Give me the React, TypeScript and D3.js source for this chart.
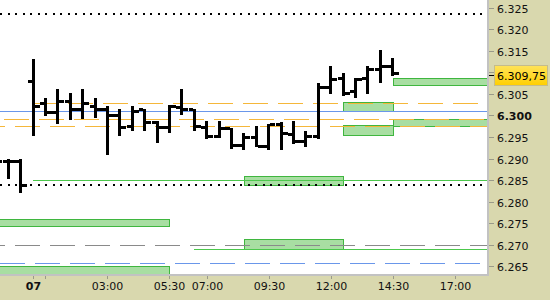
import React from "react";
import * as d3 from "d3";

// ---------- DATA ----------
const viewStart = "2024-05-06T22:40";
const viewEnd = "2024-05-07T18:18";
const priceDomain = [6.26314, 6.32686];

const barTimes = [
  "2024-05-06T22:30", "2024-05-06T23:00", "2024-05-06T23:30",
  "2024-05-07T00:00", "2024-05-07T00:30", "2024-05-07T01:00", "2024-05-07T01:30",
  "2024-05-07T02:00", "2024-05-07T02:30", "2024-05-07T03:00", "2024-05-07T03:30",
  "2024-05-07T04:00", "2024-05-07T04:30", "2024-05-07T05:00", "2024-05-07T05:30",
  "2024-05-07T06:00", "2024-05-07T06:30", "2024-05-07T07:00", "2024-05-07T07:30",
  "2024-05-07T08:00", "2024-05-07T08:30", "2024-05-07T09:00", "2024-05-07T09:30",
  "2024-05-07T10:00", "2024-05-07T10:30", "2024-05-07T11:00", "2024-05-07T11:30",
  "2024-05-07T12:00", "2024-05-07T12:30", "2024-05-07T13:00", "2024-05-07T13:30",
  "2024-05-07T14:00", "2024-05-07T14:30",
];
const opens = [
  6.2894, 6.2894, 6.2894,
  6.3078, 6.3027, 6.3006, 6.3033,
  6.3013, 6.3021, 6.3015, 6.3001,
  6.2974, 6.3013, 6.2984, 6.2971,
  6.3019, 6.3013, 6.2973, 6.2952,
  6.2969, 6.2931, 6.2950, 6.2929,
  6.2978, 6.2955, 6.2940, 6.2952,
  6.3066, 6.3085, 6.3055, 6.3085,
  6.3108, 6.3113,
];
const highs = [
  6.2899, 6.2899, 6.2899,
  6.3131, 6.3041, 6.3062, 6.3052,
  6.3062, 6.3041, 6.3022, 6.3015,
  6.3022, 6.3015, 6.2987, 6.3024,
  6.3062, 6.3015, 6.2987, 6.2987,
  6.2971, 6.2959, 6.2976, 6.2980,
  6.2984, 6.2987, 6.2964, 6.3076,
  6.3115, 6.3099, 6.3087, 6.3115,
  6.3152, 6.3134,
];
const lows = [
  6.2873, 6.2852, 6.2820,
  6.2952, 6.2999, 6.2980, 6.2990,
  6.2992, 6.2994, 6.2908, 6.2952,
  6.2964, 6.2964, 6.2936, 6.2959,
  6.3001, 6.2964, 6.2945, 6.2948,
  6.2922, 6.2920, 6.2927, 6.2920,
  6.2920, 6.2934, 6.2927, 6.2945,
  6.3050, 6.3045, 6.3041, 6.3050,
  6.3076, 6.3092,
];
const closes = [
  6.2894, 6.2894, 6.2838,
  6.3021, 6.3006, 6.3033, 6.3013,
  6.3027, 6.3015, 6.3001, 6.2971,
  6.3010, 6.2984, 6.2971, 6.3021,
  6.3013, 6.2974, 6.2952, 6.2969,
  6.2931, 6.2948, 6.2929, 6.2978,
  6.2957, 6.2940, 6.2952, 6.3065,
  6.3083, 6.3050, 6.3083, 6.3108,
  6.3113, 6.30975,
];

const lastPrice = 6.30975;

// horizontal levels
const levelPrices = [6.3236, 6.2838, 6.3010, 6.3029, 6.2992, 6.2976, 6.2850, 6.2699, 6.2690, 6.2657];
const levelStarts = [
  "2024-05-06T20:00", "2024-05-06T20:00", "2024-05-06T20:00", "2024-05-07T00:00",
  "2024-05-06T20:00", "2024-05-06T20:00", "2024-05-07T00:00", "2024-05-06T20:00",
  "2024-05-07T06:30", "2024-05-06T20:00",
];
const levelEnds = [
  "2024-05-07T18:05", "2024-05-07T18:05", "2024-05-07T20:00", "2024-05-07T20:00",
  "2024-05-07T20:00", "2024-05-07T20:00", "2024-05-07T20:00", "2024-05-07T20:00",
  "2024-05-07T20:00", "2024-05-07T18:00",
];
const levelKinds = ["dotted", "dotted", "blue", "orange", "orange", "orange", "green", "gray", "green", "blueDash"];

// zones (boxes)
const zoneStarts = [
  "2024-05-06T20:00", "2024-05-06T20:00", "2024-05-07T08:30", "2024-05-07T08:30",
  "2024-05-07T12:30", "2024-05-07T12:30", "2024-05-07T14:30", "2024-05-07T14:30",
];
const zoneEnds = [
  "2024-05-07T05:30", "2024-05-07T05:30", "2024-05-07T12:30", "2024-05-07T12:30",
  "2024-05-07T14:30", "2024-05-07T14:30", "2024-05-07T20:00", "2024-05-07T20:00",
];
const zoneTops = [6.2759, 6.2650, 6.2859, 6.2713, 6.3031, 6.2977, 6.3087, 6.2993];
const zoneBottoms = [6.2743, 6.2600, 6.2838, 6.2690, 6.3011, 6.2955, 6.3070, 6.2975];

const yTickValues = [6.325, 6.32, 6.315, 6.31, 6.305, 6.3, 6.295, 6.29, 6.285, 6.28, 6.275, 6.27, 6.265];
const xTickTimes = [
  "2024-05-07T00:00", "2024-05-07T00:30", "2024-05-07T03:00", "2024-05-07T05:30",
  "2024-05-07T07:00", "2024-05-07T09:30", "2024-05-07T12:00", "2024-05-07T14:30", "2024-05-07T17:00",
];
const xTickLabels = ["07", "", "03:00", "05:30", "07:00", "09:30", "12:00", "14:30", "17:00"];

// ---------- STYLES ----------
const W = 550;
const H = 300;
const PR = 487;
const PB = 274;
const PANEL = "#d9d8ae";
const BORDER = "#c2c2c2";
const TEXT = "#111";
const levelStyle: Record<string, any> = {
  dotted: { stroke: "#000", width: 2, dash: "2 5.5" },
  blue: { stroke: "#6a97ea", width: 1, dash: null },
  orange: { stroke: "#f5b73a", width: 1, dash: "25 10" },
  green: { stroke: "#4cc84c", width: 1, dash: null },
  gray: { stroke: "#8a8a8a", width: 1, dash: "25 10" },
  blueDash: { stroke: "#6a97ea", width: 1, dash: "25 10" },
};
// pixel phase of dash pattern per level (style)
const levelPhase = [0, 0, 0, 0, 4, 15, 0, 15, 0, 0];

const parse = d3.utcParse("%Y-%m-%dT%H:%M");

export default function App() {
  const x = d3.scaleUtc().domain([parse(viewStart)!, parse(viewEnd)!]).range([0, PR]);
  const y = d3.scaleLinear().domain(priceDomain).range([PB, 0]);
  const crisp = (v: number) => Math.round(v) + 0.5;
  const fmt = d3.format(".3f");
  const lastStr = d3.format(".5f")(lastPrice);
  const lastLabel = lastStr.slice(0, 5) + "," + lastStr.slice(5);
  const lastY = y(lastPrice);

  const bw = 3;
  return (
    <svg
      width={W}
      height={H}
      style={{ position: "fixed", left: 0, top: 0 }}
      fontFamily="DejaVu Sans, Verdana, sans-serif"
      fontSize={11}
    >
      <defs>
        <clipPath id="plotClip">
          <rect x={0} y={0} width={PR} height={PB} />
        </clipPath>
        <linearGradient id="lastGrad" x1="0" x2="0" y1="0" y2="1">
          <stop offset="0" stopColor="#ffe35a" />
          <stop offset="1" stopColor="#ffcf00" />
        </linearGradient>
      </defs>
      <rect x={0} y={0} width={W} height={H} fill="#fff" />
      <g clipPath="url(#plotClip)">
        {zoneStarts.map((s, i) => {
          const x0 = x(parse(s)!);
          const x1 = x(parse(zoneEnds[i])!);
          const y0 = y(zoneTops[i]);
          const y1 = y(zoneBottoms[i]);
          return (
            <rect
              key={"z" + i}
              x={Math.round(x0) + 0.5}
              y={Math.round(y0) + 0.5}
              width={Math.round(x1) - Math.round(x0)}
              height={Math.round(y1) - Math.round(y0)}
              fill="#a8dea2"
              stroke="#3fb63f"
              strokeWidth={1}
            />
          );
        })}
        {levelPrices.map((p, i) => {
          const st = levelStyle[levelKinds[i]];
          const x0 = Math.max(0, x(parse(levelStarts[i])!));
          const x1 = Math.min(PR, x(parse(levelEnds[i])!));
          const yy = st.width === 1 ? crisp(y(p)) : Math.round(y(p));
          const off = (35 - levelPhase[i]) % 35;
          return (
            <line
              key={"l" + i}
              x1={x0}
              x2={x1}
              y1={yy}
              y2={yy}
              stroke={st.stroke}
              strokeWidth={st.width}
              strokeDasharray={st.dash || undefined}
              strokeDashoffset={st.dash ? off : undefined}
              shapeRendering="crispEdges"
            />
          );
        })}
        {barTimes.map((t, i) => {
          const cx = x(parse(t)!);
          const yh = y(highs[i]);
          const yl = y(lows[i]);
          const yo = y(opens[i]);
          const yc = y(closes[i]);
          return (
            <g key={"b" + i} fill="#000" shapeRendering="crispEdges">
              <rect x={cx - bw / 2} y={yh} width={bw} height={Math.max(1, yl - yh)} />
              <rect x={cx - bw / 2 - 4} y={yo - bw / 2} width={4} height={bw} />
              <rect x={cx + bw / 2} y={yc - bw / 2} width={5} height={bw} />
            </g>
          );
        })}
      </g>

      {/* axis panels */}
      <rect x={PR} y={0} width={W - PR} height={H} fill={PANEL} />
      <rect x={0} y={PB} width={W} height={H - PB} fill={PANEL} />
      <line x1={PR + 1} x2={PR + 1} y1={0} y2={PB + 2} stroke={BORDER} strokeWidth={2} shapeRendering="crispEdges" />
      <line x1={0} x2={PR + 2} y1={PB + 1} y2={PB + 1} stroke={BORDER} strokeWidth={2} shapeRendering="crispEdges" />

      {/* y axis */}
      {yTickValues.map((v, i) => {
        const yy = crisp(y(v));
        const hidden = Math.abs(y(v) - lastY) < 14;
        return (
          <g key={"yt" + i}>
            <line x1={PR + 2} x2={PR + 7} y1={yy} y2={yy} stroke="#9a9a8a" shapeRendering="crispEdges" />
            {!hidden && (
              <text
                x={497}
                y={yy + 4}
                fill={TEXT}
                fontWeight={Math.abs(v - 6.3) < 1e-9 ? "bold" : "normal"}
              >
                {fmt(v)}
              </text>
            )}
          </g>
        );
      })}

      {/* last price marker */}
      <g>
        <line
          x1={PR + 2}
          x2={PR + 7}
          y1={crisp(lastY) + 1}
          y2={crisp(lastY) + 1}
          stroke="#000"
          shapeRendering="crispEdges"
        />
        <rect
          x={494.5}
          y={Math.round(lastY) - 8.5}
          width={53}
          height={20}
          fill="url(#lastGrad)"
          stroke="#c4bc8c"
          shapeRendering="crispEdges"
        />
        <text x={497} y={Math.round(lastY) + 6} fill="#000">
          {lastLabel}
        </text>
      </g>

      {/* x axis */}
      {xTickTimes.map((t, i) => {
        const xx = crisp(x(parse(t)!));
        const lab = xTickLabels[i];
        return (
          <g key={"xt" + i}>
            <line x1={xx} x2={xx} y1={PB + 2} y2={PB + 5} stroke="#9a9a8a" shapeRendering="crispEdges" />
            {lab && (
              <text
                x={xx}
                y={290}
                textAnchor="middle"
                fill={TEXT}
                fontWeight={lab.indexOf(":") < 0 ? "bold" : "normal"}
              >
                {lab}
              </text>
            )}
          </g>
        );
      })}
    </svg>
  );
}
